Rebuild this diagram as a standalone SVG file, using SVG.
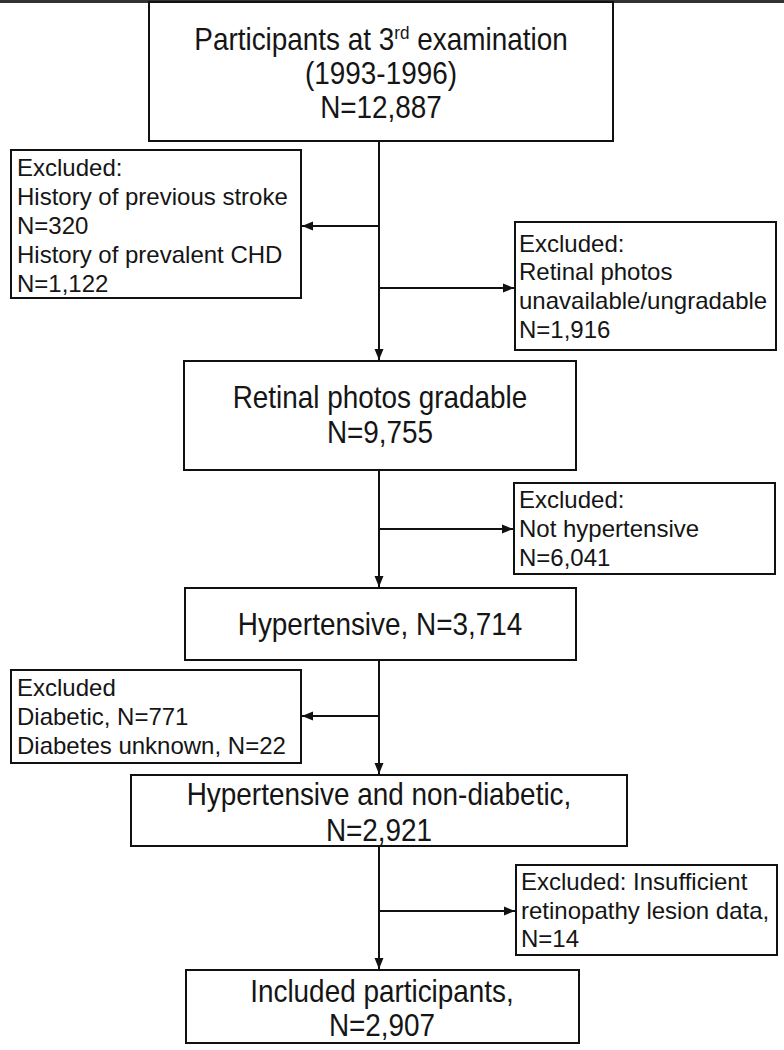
<svg xmlns="http://www.w3.org/2000/svg" width="784" height="1050" viewBox="0 0 784 1050">
<defs>
<style>
.box{fill:#fff;stroke:#111;stroke-width:2}
.main{font-family:"Liberation Sans",Arial,sans-serif;font-size:31px;fill:#151515;text-anchor:middle}
.side{font-family:"Liberation Sans",Arial,sans-serif;font-size:24px;fill:#151515}
.conn{fill:none;stroke:#111;stroke-width:2}
</style>
<marker id="ah" markerUnits="userSpaceOnUse" markerWidth="12" markerHeight="10" refX="11" refY="5" orient="auto">
<path d="M0,0.5 L11,5 L0,9.5 z" fill="#111"/>
</marker>
</defs>
<rect x="0" y="0" width="784" height="1050" fill="#fff"/>
<rect x="0" y="0" width="784" height="3" fill="#333"/>

<g id="connectors">
<path class="conn" d="M379,141 V360" marker-end="url(#ah)"/>
<path class="conn" d="M379,226 H302" marker-end="url(#ah)"/>
<path class="conn" d="M379,288 H514" marker-end="url(#ah)"/>
<path class="conn" d="M379,470 V587" marker-end="url(#ah)"/>
<path class="conn" d="M379,529 H513" marker-end="url(#ah)"/>
<path class="conn" d="M379,660 V774" marker-end="url(#ah)"/>
<path class="conn" d="M379,716 H302" marker-end="url(#ah)"/>
<path class="conn" d="M379,846 V969" marker-end="url(#ah)"/>
<path class="conn" d="M379,911 H515" marker-end="url(#ah)"/>
</g>

<g id="n-participants">
<rect class="box" x="149" y="2" width="464" height="139"/>
<g transform="translate(381,0) scale(0.9,1)">
<text class="main" x="0" y="50">Participants at 3<tspan font-size="19" dy="-11">rd</tspan><tspan dy="11"> examination</tspan></text>
<text class="main" x="0" y="84">(1993-1996)</text>
<text class="main" x="0" y="118">N=12,887</text>
</g>
</g>

<g id="n-excl-stroke">
<rect class="box" x="11" y="150" width="290" height="148"/>
<text class="side" x="17" y="176">Excluded:</text>
<text class="side" x="17" y="205">History of previous stroke</text>
<text class="side" x="17" y="234">N=320</text>
<text class="side" x="17" y="263">History of prevalent CHD</text>
<text class="side" x="17" y="292">N=1,122</text>
</g>

<g id="n-excl-photos">
<rect class="box" x="515" y="222" width="261" height="128"/>
<text class="side" x="519" y="252">Excluded:</text>
<text class="side" x="519" y="280">Retinal photos</text>
<text class="side" x="519" y="309">unavailable/ungradable</text>
<text class="side" x="519" y="338">N=1,916</text>
</g>

<g id="n-gradable">
<rect class="box" x="184" y="361" width="392" height="109"/>
<g transform="translate(380,0) scale(0.9,1)">
<text class="main" x="0" y="408">Retinal photos gradable</text>
<text class="main" x="0" y="443">N=9,755</text>
</g>
</g>

<g id="n-excl-nothyp">
<rect class="box" x="514" y="483" width="261" height="91"/>
<text class="side" x="519" y="508">Excluded:</text>
<text class="side" x="519" y="537">Not hypertensive</text>
<text class="side" x="519" y="566">N=6,041</text>
</g>

<g id="n-hypertensive">
<rect class="box" x="185" y="588" width="391" height="72"/>
<g transform="translate(380,0) scale(0.9,1)">
<text class="main" x="0" y="635">Hypertensive, N=3,714</text>
</g>
</g>

<g id="n-excl-diabetic">
<rect class="box" x="11" y="670" width="290" height="93"/>
<text class="side" x="17" y="696">Excluded</text>
<text class="side" x="17" y="725">Diabetic, N=771</text>
<text class="side" x="17" y="754">Diabetes unknown, N=22</text>
</g>

<g id="n-nondiabetic">
<rect class="box" x="131" y="775" width="496" height="71"/>
<g transform="translate(379,0) scale(0.9,1)">
<text class="main" x="0" y="805">Hypertensive and non-diabetic,</text>
<text class="main" x="0" y="841">N=2,921</text>
</g>
</g>

<g id="n-excl-lesion">
<rect class="box" x="516" y="865" width="261" height="90"/>
<text class="side" x="521" y="890">Excluded: Insufficient</text>
<text class="side" x="521" y="919">retinopathy lesion data,</text>
<text class="side" x="521" y="947">N=14</text>
</g>

<g id="n-included">
<rect class="box" x="186" y="970" width="393" height="73"/>
<g transform="translate(382,0) scale(0.9,1)">
<text class="main" x="0" y="1002">Included participants,</text>
<text class="main" x="0" y="1036">N=2,907</text>
</g>
</g>
</svg>
